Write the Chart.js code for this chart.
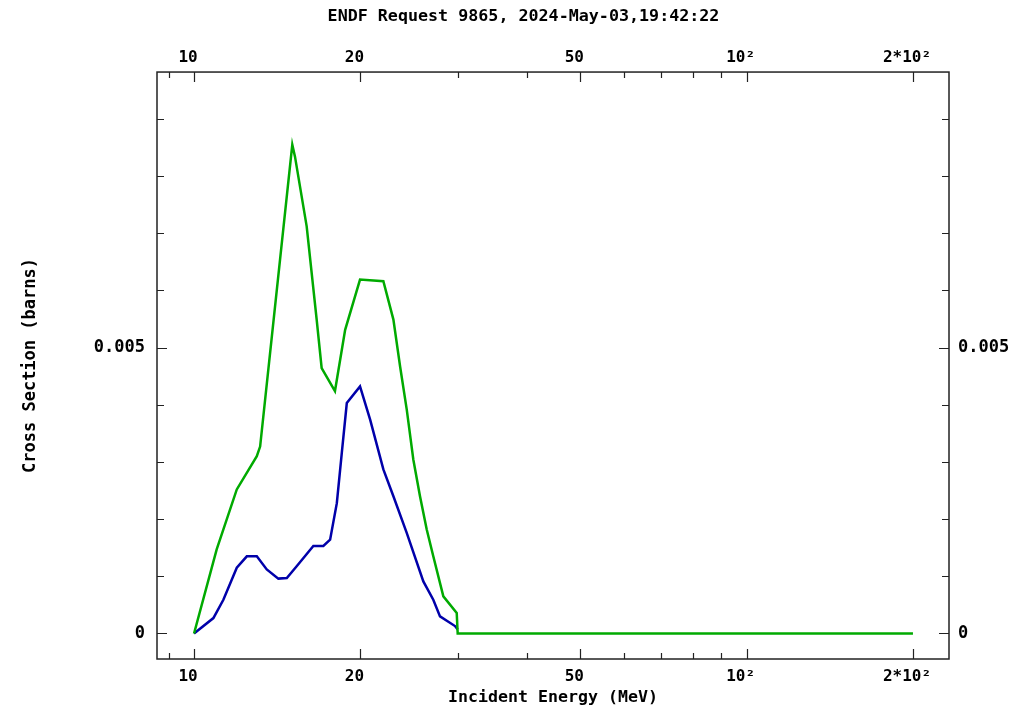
<!DOCTYPE html>
<html>
<head>
<meta charset="utf-8">
<script src="https://cdn.jsdelivr.net/npm/chart.js@4"></script>
<style>
  html, body { margin: 0; padding: 0; background: #fff; }
</style>
</head>
<body>
<canvas id="xsChart" width="1033" height="710"></canvas>
<script>
// energies (MeV) and cross sections (barns)
var greenE  = [10, 10.99, 11.95, 12.99, 13.17, 14.31, 15.06, 15.23, 15.99, 16.67, 17.02, 17.99, 18.77, 19.97, 22.01, 22.95, 23.6, 24.26, 24.94, 25.64, 26.37, 27.1, 28.26, 29.88, 30, 200];
var greenXS = [0, 0.00147, 0.00252, 0.00310, 0.00327, 0.00654, 0.00855, 0.00834, 0.00712, 0.00549, 0.00464, 0.00424, 0.00531, 0.00619, 0.00616, 0.00549, 0.00467, 0.00392, 0.00304, 0.00240, 0.00182, 0.00135, 0.00065, 0.00036, 0, 0];

var blueE  = [10, 10.84, 11.30, 11.95, 12.46, 12.99, 13.54, 14.21, 14.72, 15.35, 16.44, 17.14, 17.63, 18.13, 18.51, 18.90, 19.97, 20.83, 22.01, 22.95, 24.26, 26.0, 27.1, 27.87, 29.67, 30];
var blueXS = [0, 0.00027, 0.00059, 0.00115, 0.00135, 0.00135, 0.00112, 0.00096, 0.00097, 0.00118, 0.00153, 0.00153, 0.00164, 0.00228, 0.00316, 0.00403, 0.00432, 0.00374, 0.00287, 0.00240, 0.00176, 0.00091, 0.00059, 0.00030, 0.00013, 0.00007];

// axis ticks
var xMajor = [10, 20, 50, 100, 200];
var xMajorLabels = ['10', '20', '50', '10²', '2*10²'];
var xMinor = [9, 30, 40, 60, 70, 80, 90];
var yTicks = [0, 0.001, 0.002, 0.003, 0.004, 0.005, 0.006, 0.007, 0.008, 0.009];
var yMajor = [0, 0.005];
var yMajorLabels = ['0', '0.005'];

var xMin = 8.57, xMax = 232.4;
var yMin = -0.000446, yMax = 0.00982;

function pts(xs, ys) {
  return xs.map(function (x, i) { return { x: x, y: ys[i] }; });
}

var monoFont = 'DejaVu Sans Mono';

function xLabel(value) {
  var i = xMajor.indexOf(value);
  return i >= 0 ? xMajorLabels[i] : '';
}
function yLabel(value) {
  for (var i = 0; i < yMajor.length; i++) {
    if (Math.abs(value - yMajor[i]) < 1e-9) return yMajorLabels[i];
  }
  return '';
}
function setXTicks(scale) {
  scale.ticks = xMajor.concat(xMinor).sort(function (a, b) { return a - b; })
    .map(function (v) { return { value: v }; });
}
function setYTicks(scale) {
  scale.ticks = yTicks.map(function (v) { return { value: v }; });
}

// frame + inward tick marks
var framePlugin = {
  id: 'frame',
  afterDraw: function (chart) {
    var c = chart.ctx, a = chart.chartArea;
    var xs = chart.scales.x, ys = chart.scales.y;
    c.save();
    c.strokeStyle = '#222';
    c.lineWidth = 1.5;
    c.strokeRect(a.left, a.top, a.right - a.left, a.bottom - a.top);
    c.lineWidth = 1.2;
    c.beginPath();
    xMajor.concat(xMinor).forEach(function (v) {
      var len = xMajor.indexOf(v) >= 0 ? 10 : 6;
      var px = Math.round(xs.getPixelForValue(v)) + 0.5;
      c.moveTo(px, a.bottom); c.lineTo(px, a.bottom - len);
      c.moveTo(px, a.top); c.lineTo(px, a.top + len);
    });
    yTicks.forEach(function (v) {
      var len = yLabel(v) !== '' ? 10 : 7;
      var py = Math.round(ys.getPixelForValue(v)) + 0.5;
      c.moveTo(a.left, py); c.lineTo(a.left + len, py);
      c.moveTo(a.right, py); c.lineTo(a.right - len, py);
    });
    c.stroke();
    c.restore();
  }
};

var ctx = document.getElementById('xsChart').getContext('2d');
var chart = new Chart(ctx, {
  type: 'line',
  data: {
    datasets: [{
      label: 'green',
      data: pts(greenE, greenXS),
      borderColor: 'rgb(0,170,0)',
      borderWidth: 2.5,
      pointRadius: 0,
      tension: 0,
      fill: false
    }, {
      label: 'blue',
      data: pts(blueE, blueXS),
      borderColor: 'rgb(0,0,170)',
      borderWidth: 2.5,
      pointRadius: 0,
      tension: 0,
      fill: false
    }]
  },
  options: {
    responsive: false,
    animation: false,
    layout: { padding: { left: 14, right: 0, top: 0, bottom: 0 } },
    plugins: {
      legend: { display: false },
      tooltip: { enabled: false },
      title: {
        display: true,
        text: 'ENDF Request 9865, 2024-May-03,19:42:22',
        color: '#000',
        font: { family: monoFont, size: 16.7, weight: 'bold' },
        padding: { top: 7, bottom: 0 }
      }
    },
    scales: {
      x: {
        type: 'logarithmic',
        position: 'bottom',
        min: xMin, max: xMax,
        afterBuildTicks: setXTicks,
        afterFit: function (s) { s.height = 51; },
        grid: { display: false, drawTicks: false },
        border: { display: false },
        ticks: {
          callback: xLabel, autoSkip: false, maxRotation: 0,
          padding: 8, labelOffset: -6, color: '#000',
          font: { family: monoFont, size: 16, weight: 'bold' }
        },
        title: {
          display: true, text: 'Incident Energy (MeV)', color: '#000',
          font: { family: monoFont, size: 16.6, weight: 'bold' },
          padding: { top: 0, bottom: 2 }
        }
      },
      x2: {
        type: 'logarithmic',
        position: 'top',
        min: xMin, max: xMax,
        afterBuildTicks: setXTicks,
        afterFit: function (s) { s.height = 45; },
        grid: { display: false, drawTicks: false },
        border: { display: false },
        ticks: {
          callback: xLabel, autoSkip: false, maxRotation: 0,
          padding: 5, labelOffset: -6, color: '#000',
          font: { family: monoFont, size: 16, weight: 'bold' }
        }
      },
      y: {
        type: 'linear',
        position: 'left',
        min: yMin, max: yMax,
        afterBuildTicks: setYTicks,
        afterFit: function (s) { s.width = 143; },
        grid: { display: false, drawTicks: false },
        border: { display: false },
        ticks: {
          callback: yLabel, autoSkip: false, padding: 12, color: '#000',
          font: { family: monoFont, size: 17, weight: 'bold' }
        },
        title: {
          display: true, text: 'Cross Section (barns)', color: '#000',
          font: { family: monoFont, size: 17, weight: 'bold' },
          padding: { top: 6, bottom: 0 }
        }
      },
      y2: {
        type: 'linear',
        position: 'right',
        min: yMin, max: yMax,
        afterBuildTicks: setYTicks,
        afterFit: function (s) { s.width = 84; },
        grid: { display: false, drawTicks: false },
        border: { display: false },
        ticks: {
          callback: yLabel, autoSkip: false, padding: 9, color: '#000',
          font: { family: monoFont, size: 17, weight: 'bold' }
        }
      }
    }
  },
  plugins: [framePlugin]
});
</script>
</body>
</html>
